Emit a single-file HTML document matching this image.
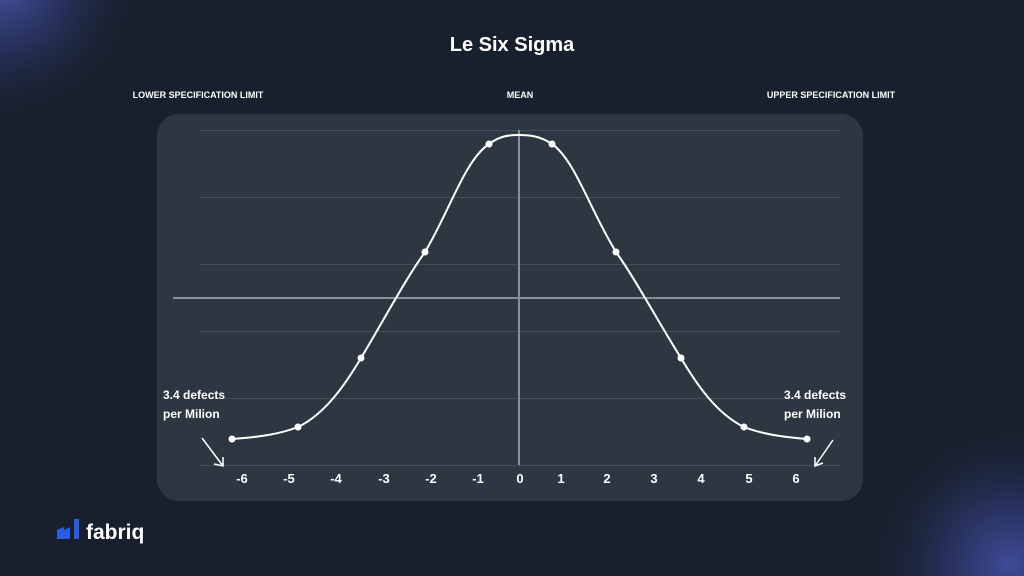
<!DOCTYPE html>
<html style="margin:0;width:1024px;height:576px;overflow:hidden"><head><meta charset="utf-8"><style>
html,body{margin:0;padding:0}
body{width:1024px;height:576px;overflow:hidden;background:#17202c;font-family:"Liberation Sans",sans-serif}
svg{display:block}
</style></head><body>
<svg width="1024" height="576" viewBox="0 0 1024 576" font-family="Liberation Sans, sans-serif">
<defs>
<radialGradient id="ga" gradientUnits="userSpaceOnUse" cx="0" cy="-20" r="150"><stop offset="0" stop-color="#4a55a8"/><stop offset=".45" stop-color="#3c4696" stop-opacity=".45"/><stop offset="1" stop-color="#17202c" stop-opacity="0"/></radialGradient>
<radialGradient id="gb" gradientUnits="userSpaceOnUse" cx="1010" cy="565" r="150"><stop offset="0" stop-color="#3f4b98"/><stop offset=".45" stop-color="#3c4696" stop-opacity=".4"/><stop offset="1" stop-color="#17202c" stop-opacity="0"/></radialGradient>
</defs>
<rect width="1024" height="576" fill="#17202c"/>
<rect x="0" y="0" width="160" height="140" fill="url(#ga)"/>
<rect x="850" y="410" width="174" height="166" fill="url(#gb)"/>
<text x="512" y="51" fill="#fff" font-size="20" font-weight="bold" text-anchor="middle">Le Six Sigma</text>
<g fill="#fff" font-size="9" font-weight="bold" text-anchor="middle">
<text x="198" y="98">LOWER SPECIFICATION LIMIT</text>
<text x="520" y="98">MEAN</text>
<text x="831" y="98">UPPER SPECIFICATION LIMIT</text>
</g>
<rect x="157" y="114" width="706" height="387" rx="22" fill="#2e3741"/>
<g stroke="#454e58" stroke-width="1">
<line x1="200" y1="130.5" x2="840" y2="130.5"/>
<line x1="200" y1="197.5" x2="840" y2="197.5"/>
<line x1="200" y1="264.5" x2="840" y2="264.5"/>
<line x1="200" y1="331.5" x2="840" y2="331.5"/>
<line x1="200" y1="398.5" x2="840" y2="398.5"/>
<line x1="200" y1="465.5" x2="840" y2="465.5"/>
</g>
<line x1="173" y1="298" x2="840" y2="298" stroke="#8a9097" stroke-width="2"/>
<line x1="519" y1="130" x2="519" y2="465" stroke="#8a9097" stroke-width="2"/>
<path d="M232,439 C260,437 280,434 298,427 C325,414 345,385 361,358 C385,318 405,280 425,252 C450,210 465,160 489,144 C500,136 508,135 519,135 C530,135 540,136 552,144 C575,160 590,210 616,252 C636,280 656,318 681,358 C697,385 717,414 744,427 C762,434 782,437 807,439" fill="none" stroke="#fff" stroke-width="2"/>
<g fill="#fff">
<circle cx="232" cy="439" r="3.5"/><circle cx="298" cy="427" r="3.5"/><circle cx="361" cy="358" r="3.5"/><circle cx="425" cy="252" r="3.5"/><circle cx="489" cy="144" r="3.5"/>
<circle cx="552" cy="144" r="3.5"/><circle cx="616" cy="252" r="3.5"/><circle cx="681" cy="358" r="3.5"/><circle cx="744" cy="427" r="3.5"/><circle cx="807" cy="439" r="3.5"/>
</g>
<g fill="#fff" font-size="13" font-weight="bold" text-anchor="middle">
<text x="242" y="483">-6</text><text x="289" y="483">-5</text><text x="336" y="483">-4</text><text x="384" y="483">-3</text><text x="431" y="483">-2</text><text x="478" y="483">-1</text><text x="520" y="483">0</text><text x="561" y="483">1</text><text x="607" y="483">2</text><text x="654" y="483">3</text><text x="701" y="483">4</text><text x="749" y="483">5</text><text x="796" y="483">6</text>
</g>
<g fill="#fff" font-size="12" font-weight="bold">
<text x="163" y="399">3.4 defects</text><text x="163" y="418">per Milion</text>
<text x="784" y="399">3.4 defects</text><text x="784" y="418">per Milion</text>
</g>
<g stroke="#fff" stroke-width="1.5" fill="none">
<path d="M202,438 L223,466 M214,464 L223,466 L223,457"/>
<path d="M833,440 L815,466 M815,457 L815,466 L823,463"/>
</g>
<path d="M57,539 L57,530 L64,527 L64,530 L70,527 L70,539 Z" fill="#2a5be0"/>
<rect x="74" y="519" width="5" height="20" fill="#2a5be0"/>
<text x="86" y="539" fill="#fff" font-size="21" font-weight="bold">fabriq</text>
</svg>
</body></html>
